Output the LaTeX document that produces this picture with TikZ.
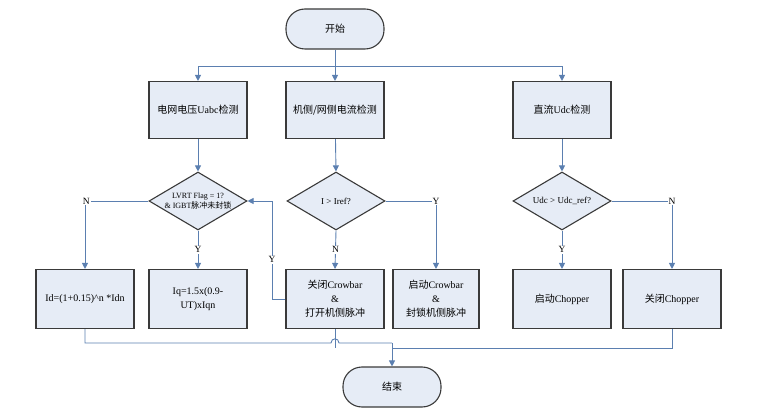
\documentclass[tikz,border=0pt]{standalone}
\usepackage{fontspec}
\setmainfont{Liberation Serif}
\newfontfamily\cjk{Noto Sans CJK SC}
\usetikzlibrary{shapes.geometric,arrows.meta}
\definecolor{ln}{HTML}{5B7FB0}
\definecolor{bf}{HTML}{E6ECF6}
\definecolor{bd}{HTML}{3A3A3A}
\begin{document}
\begin{tikzpicture}[x=1pt,y=-1pt,
  box/.style={draw=bd,fill=bf,line width=1.1pt,minimum width=98pt,minimum height=59pt,inner sep=1pt,align=center,font=\fontsize{10}{14}\selectfont},
  topbox/.style={box,minimum height=57pt},
  pill/.style={draw=bd,fill=bf,line width=1.1pt,rounded corners=19pt,minimum width=98pt,minimum height=40pt,font=\fontsize{10}{12}\selectfont},
  dia/.style={draw=bd,fill=bf,line width=1.1pt,diamond,aspect=1.69,minimum width=98pt,minimum height=58pt,inner sep=0pt},
  dtext/.style={align=center,inner sep=0pt,font=\fontsize{8}{10}\selectfont},
  conn/.style={draw=ln,line width=0.9pt},
  arr/.style={conn,-{Triangle[length=6pt,width=6pt]}},
  lab/.style={fill=white,inner sep=1pt,font=\fontsize{9.5}{10}\selectfont}]
\useasboundingbox (0,0) rectangle (765,419);
\node[pill] (start) at (335,29) {{\cjk 开始}};
\node[topbox] (b1) at (198,110) {{\cjk 电网电压}Uabc{\cjk 检测}};
\node[topbox] (b2) at (335,110) {{\cjk 机侧/网侧电流检测}};
\node[topbox] (b3) at (562,110) {{\cjk 直流}Udc{\cjk 检测}};
\node[dia] (d1) at (198,201) {};
\node[dtext] (t1) at (198,201) {LVRT Flag = 1?\\\& IGBT{\cjk 脉冲未封锁}};
\node[dia] (d2) at (336,201) {};
\node[dtext,font=\fontsize{9}{10}\selectfont] (t2) at (336,201) {I > Iref?};
\node[dia] (d3) at (562,201) {};
\node[dtext,font=\fontsize{9}{10}\selectfont] (t3) at (562,201) {Udc > Udc\_ref?};
\node[box] (c1) at (85,299) {Id=(1+0.15)\^{}n *Idn};
\node[box] (c2) at (198,299) {Iq=1.5x(0.9-\\UT)xIqn};
\node[box] (c3) at (335,299) {{\cjk 关闭}Crowbar\\\&\\{\cjk 打开机侧脉冲}};
\node[box,minimum width=86pt] (c4) at (436,299) {{\cjk 启动}Crowbar\\\&\\{\cjk 封锁机侧脉冲}};
\node[box] (c5) at (562,299) {{\cjk 启动}Chopper};
\node[box] (c6) at (672,299) {{\cjk 关闭}Chopper};
\node[pill] (end) at (392,387) {{\cjk 结束}};
\coordinate (h) at (335,66);
\draw[conn] (start.south) -- (h);
\draw[arr] (h) -| (b1.north);
\draw[arr] (h) -- (b2.north);
\draw[arr] (h) -| (b3.north);
\draw[arr] (b1) -- (d1.north);
\draw[arr] (b2) -- (d2.north);
\draw[arr] (b3) -- (d3.north);
\draw[arr] (d1.west) -| node[lab,pos=0.49] (n1) {N} (c1.north);
\draw[arr] (d1.south) -- node[lab] (y1) {Y} (c2.north);
\draw[arr] (c3.west) -| node[lab,pos=0.7] (y2) {Y} (272,201) -- (d1.east);
\draw[arr] (d2.south) -- node[lab] (n2) {N} (c3.north);
\draw[arr] (d2.east) -| node[lab,pos=0.5] (y3) {Y} (c4.north);
\draw[arr] (d3.south) -- node[lab] (y4) {Y} (c5.north);
\draw[arr] (d3.east) -| node[lab,pos=0.5] (n3) {N} (c6.north);
\coordinate (j1) at (331,343);
\coordinate (j2) at (339,343);
\coordinate (m) at (392,343);
\draw[conn] (c1.south) |- (j1) .. controls (331,337.5) and (339,337.5) .. (j2) -- (m);
\draw[arr] (m) -- (end.north);
\coordinate (k) at (335,348);
\draw[conn] (c3.south) -- (k);
\draw[conn] (c6.south) |- (392,348);
\end{tikzpicture}
\end{document}
